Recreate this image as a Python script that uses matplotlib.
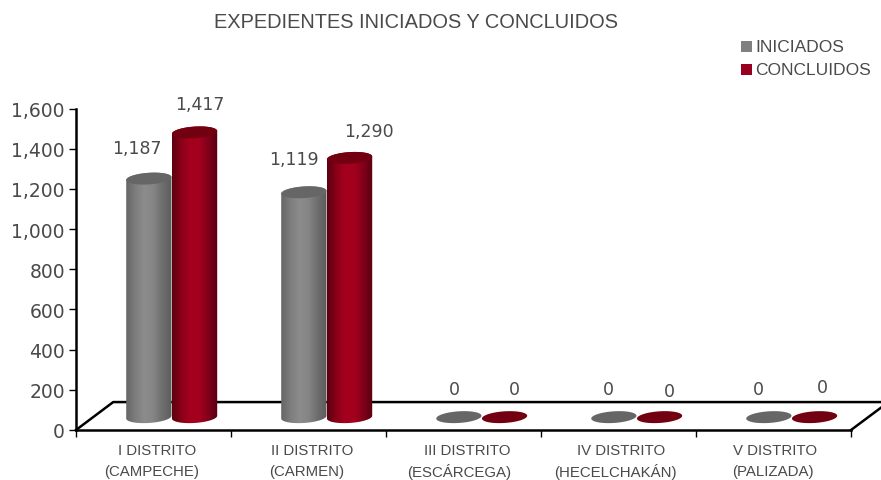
import numpy as np
import matplotlib
matplotlib.use("Agg")
import matplotlib.pyplot as plt
from matplotlib.colors import LinearSegmentedColormap
from matplotlib.patches import PathPatch, Polygon, Rectangle
from matplotlib.path import Path

cat_line1 = ["I DISTRITO", "II DISTRITO", "III DISTRITO", "IV DISTRITO", "V DISTRITO"]
cat_line2 = ["(CAMPECHE)", "(CARMEN)", "(ESCÁRCEGA)", "(HECELCHAKÁN)", "(PALIZADA)"]
iniciados = [1187, 1119, 0, 0, 0]
concluidos = [1417, 1290, 0, 0, 0]
yticks = [0, 200, 400, 600, 800, 1000, 1200, 1400, 1600]

W, H = 881, 481
TEXT = "#4a4a4a"

fig = plt.figure(figsize=(W / 100, H / 100), dpi=100)
# axes box in pixels: x 76-851, y 431 (0) up to 109.5 (1600)
ax = fig.add_axes([76 / W, 1 - 431 / H, 775 / W, 321.5 / H])
ax.set_xlim(0, 5)
ax.set_ylim(0, 1600)

gray_cmap = LinearSegmentedColormap.from_list("g", ["#666666", "#7d7d7d", "#8c8c8c", "#858585", "#6e6e6e", "#5c5c5c"])
red_cmap = LinearSegmentedColormap.from_list("r", ["#5a0010", "#8a0018", "#a5001f", "#a3001e", "#80001a", "#560010"])

BASE = 64      # the bars stand on the floor, above the 0 line
HALF_W = 0.146
ELL_H = 29
SHEAR = 7


def ellipse(cx, cy):
    t = np.linspace(0, 2 * np.pi, 60)
    return np.column_stack([cx + HALF_W * np.cos(t), cy + ELL_H * np.sin(t) + SHEAR * np.cos(t)])


def cylinder(cx, value, cmap, cap_color, z):
    top = BASE + value
    if value > 0:
        t = np.linspace(np.pi, 2 * np.pi, 40)
        low = np.column_stack([cx + HALF_W * np.cos(t), BASE + ELL_H * np.sin(t) + SHEAR * np.cos(t)])
        t2 = np.linspace(0, np.pi, 40)
        up = np.column_stack([cx + HALF_W * np.cos(t2), top + ELL_H * np.sin(t2) + SHEAR * np.cos(t2)])
        body = np.vstack([low, up, low[:1]])
        im = ax.imshow(np.linspace(0, 1, 128).reshape(1, -1), cmap=cmap, aspect="auto", zorder=z,
                       extent=[cx - HALF_W, cx + HALF_W, BASE - 60, top + 60])
        im.set_clip_path(PathPatch(Path(body), transform=ax.transData))
    ax.add_patch(Polygon(ellipse(cx, top), closed=True, fc=cap_color, ec="none", zorder=z + 0.1))


# floor of the 3d box
FLOOR = 139
ax.plot([0, 0.24, 5.2], [0, FLOOR, FLOOR], color="black", lw=1.8, zorder=1, clip_on=False)
ax.plot([5, 5.2], [0, 115], color="black", lw=1.8, zorder=1, clip_on=False)

for i in range(len(iniciados)):
    cylinder(i + 0.47, iniciados[i], gray_cmap, "#666666", 3)
    cylinder(i + 0.765, concluidos[i], red_cmap, "#720010", 4)
ax.set_xlim(0, 5)
ax.set_ylim(0, 1600)

# value labels were moved by hand in the original
gray_pos = [(137, 149), (294, 160), (454, 390), (608, 390), (758, 390)]
red_pos = [(200, 105), (369, 132), (514, 390), (669, 392), (822, 388)]
for i in range(len(iniciados)):
    for v, p in ((iniciados[i], gray_pos[i]), (concluidos[i], red_pos[i])):
        fig.text(p[0] / W, 1 - p[1] / H, f"{v:,}", ha="center", va="center", fontsize=12.5, color=TEXT)

for s in ("top", "right"):
    ax.spines[s].set_visible(False)
for s in ("left", "bottom"):
    ax.spines[s].set_linewidth(1.8)
ax.set_yticks(yticks)
ax.set_yticklabels([f"{v:,}" for v in yticks], fontsize=13.5, color=TEXT)
ax.set_xticks(range(6))
ax.set_xticklabels([])
ax.tick_params(axis="y", length=5, width=1, pad=3)
ax.tick_params(axis="x", length=5, width=1)
ax.patch.set_visible(False)

line1_x = [157, 312, 467.5, 621, 775.5]
line2_x = [152, 307, 459, 615.5, 772.5]
for i in range(len(cat_line1)):
    fig.text(line1_x[i] / W, 1 - 451.5 / H, cat_line1[i], ha="center", va="center", fontsize=10.8,
             color=TEXT, family="Liberation Sans")
    fig.text(line2_x[i] / W, 1 - 472 / H, cat_line2[i], ha="center", va="center", fontsize=10.8,
             color=TEXT, family="Liberation Sans")

fig.text(416 / W, 1 - 23 / H, "EXPEDIENTES INICIADOS Y CONCLUIDOS", ha="center", va="center",
         fontsize=14.4, color=TEXT, family="Liberation Sans")

# legend
for y, name, col in ((47.5, "INICIADOS", "#808080"), (70.5, "CONCLUIDOS", "#990020")):
    fig.add_artist(Rectangle((741 / W, 1 - (y + 5.5) / H), 11 / W, 11 / H, fc=col, ec="none",
                             transform=fig.transFigure))
    fig.text(755 / W, 1 - y / H, name, ha="left", va="center", fontsize=12.5, color=TEXT,
             family="Liberation Sans")

fig.savefig("out.png", dpi=100)
